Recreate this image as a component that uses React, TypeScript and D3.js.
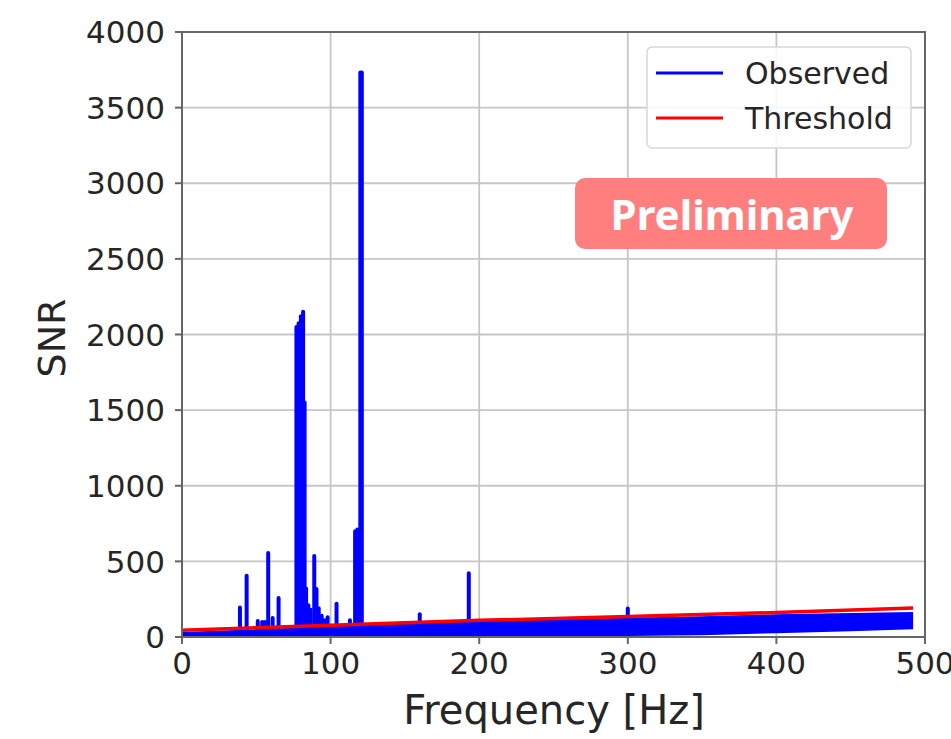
import * as d3 from "d3";

// x / y tick values
const xTicks = [0, 100, 200, 300, 400, 500];
const yTicks = [0, 500, 1000, 1500, 2000, 2500, 3000, 3500, 4000];

// threshold line
const thresholdFreq = [0, 100, 200, 300, 400, 492];
const thresholdSnr = [45, 78, 110, 135, 162, 192];

// the dense noise floor of the observed SNR, as an envelope
const bandFreq = [0, 50, 100, 150, 200, 250, 300, 350, 400, 450, 492];
const bandUpper = [33, 52, 70, 90, 106, 116, 128, 138, 150, 158, 166];
const bandLower = [0, 0, 0, 0, 0, 2, 6, 12, 25, 38, 52];

// narrow lines sticking out of the noise floor
const spikeFreq = [39, 43.5, 51, 54, 56, 58, 61, 65, 77, 78.5, 80, 81.5, 82.5, 83.5, 85, 86.5, 89, 90.5, 92, 94, 96, 98, 104, 113, 116.5, 118, 120, 121, 160, 193, 300];
const spikeSnr = [195, 405, 105, 100, 100, 556, 125, 258, 2050, 2075, 2120, 2150, 1550, 320, 210, 180, 536, 318, 190, 140, 110, 130, 220, 110, 700, 710, 3732, 3732, 150, 422, 188];

const W = 951;
const H = 739;
const left = 182;
const right = 925;
const top = 32;
const bottom = 637;

export default function App() {
  const x = d3.scaleLinear().domain([0, 500]).range([left, right]);
  const y = d3.scaleLinear().domain([0, 4000]).range([bottom, top]);

  const band = d3
    .area<number>()
    .x((d) => x(bandFreq[d]))
    .y0((d) => y(bandLower[d]))
    .y1((d) => y(bandUpper[d]));

  const line = d3
    .line<number>()
    .x((d) => x(thresholdFreq[d]))
    .y((d) => y(thresholdSnr[d]));

  const font = "'DejaVu Sans', sans-serif";
  const textColor = "#262626";

  return (
    <svg
      width={W}
      height={H}
      viewBox={`0 0 ${W} ${H}`}
      style={{ position: "absolute", left: 0, top: 0, background: "#fff" }}
    >
      <defs>
        <clipPath id="plot">
          <rect x={left} y={top} width={right - left} height={bottom - top} />
        </clipPath>
      </defs>

      {/* grid */}
      <g stroke="#c6c6c6" strokeWidth={1.8}>
        {xTicks.map((t) => (
          <line key={"gx" + t} x1={x(t)} x2={x(t)} y1={top} y2={bottom} />
        ))}
        {yTicks.map((t) => (
          <line key={"gy" + t} x1={left} x2={right} y1={y(t)} y2={y(t)} />
        ))}
      </g>

      {/* observed */}
      <g clipPath="url(#plot)">
        <path d={band(d3.range(bandFreq.length)) ?? ""} fill="#0000ff" />
        <g stroke="#0000ff" strokeWidth={4} strokeLinecap="round">
          {spikeFreq.map((f, i) => (
            <line key={"s" + i} x1={x(f)} x2={x(f)} y1={y(0)} y2={y(spikeSnr[i])} />
          ))}
        </g>
        <path
          d={line(d3.range(thresholdFreq.length)) ?? ""}
          fill="none"
          stroke="#ff0000"
          strokeWidth={3.5}
        />
      </g>

      {/* spines */}
      <rect
        x={left}
        y={top}
        width={right - left}
        height={bottom - top}
        fill="none"
        stroke="#666"
        strokeWidth={2}
      />

      {/* axes */}
      <g fontFamily={font} fontSize={31} fill={textColor}>
        {yTicks.map((t) => (
          <g key={"ty" + t}>
            <line x1={left - 7} x2={left} y1={y(t)} y2={y(t)} stroke="#666" strokeWidth={2} />
            <text x={left - 17} y={y(t)} dy="0.36em" textAnchor="end">
              {t}
            </text>
          </g>
        ))}
        {xTicks.map((t) => (
          <g key={"tx" + t}>
            <line x1={x(t)} x2={x(t)} y1={bottom} y2={bottom + 7} stroke="#666" strokeWidth={2} />
            <text x={x(t)} y={bottom + 37} textAnchor="middle">
              {t}
            </text>
          </g>
        ))}
      </g>

      <text
        x={554}
        y={724}
        textAnchor="middle"
        fontFamily={font}
        fontSize={40}
        fill={textColor}
      >
        Frequency [Hz]
      </text>
      <text
        transform="translate(65,338) rotate(-90)"
        textAnchor="middle"
        fontFamily={font}
        fontSize={38}
        fill={textColor}
      >
        SNR
      </text>

      {/* legend */}
      <g>
        <rect x={647} y={47} width={264} height={101} rx={5} fill="#fff" fillOpacity={0.85} stroke="#d8d8d8" strokeWidth={1.5} />
        <line x1={656} x2={723} y1={73} y2={73} stroke="#0000ff" strokeWidth={3} />
        <line x1={656} x2={723} y1={118} y2={118} stroke="#ff0000" strokeWidth={3} />
        <text x={745} y={84} fontFamily={font} fontSize={30} fill={textColor}>
          Observed
        </text>
        <text x={745} y={129} fontFamily={font} fontSize={30} fill={textColor}>
          Threshold
        </text>
      </g>

      {/* preliminary badge */}
      <g>
        <rect x={575} y={178} width={312} height={71} rx={10} fill="#ff7f7f" />
        <text
          x={732}
          y={230}
          textAnchor="middle"
          fontFamily="'Noto Sans', sans-serif"
          fontWeight="bold"
          fontSize={42}
          fill="#fff"
        >
          Preliminary
        </text>
      </g>
    </svg>
  );
}
